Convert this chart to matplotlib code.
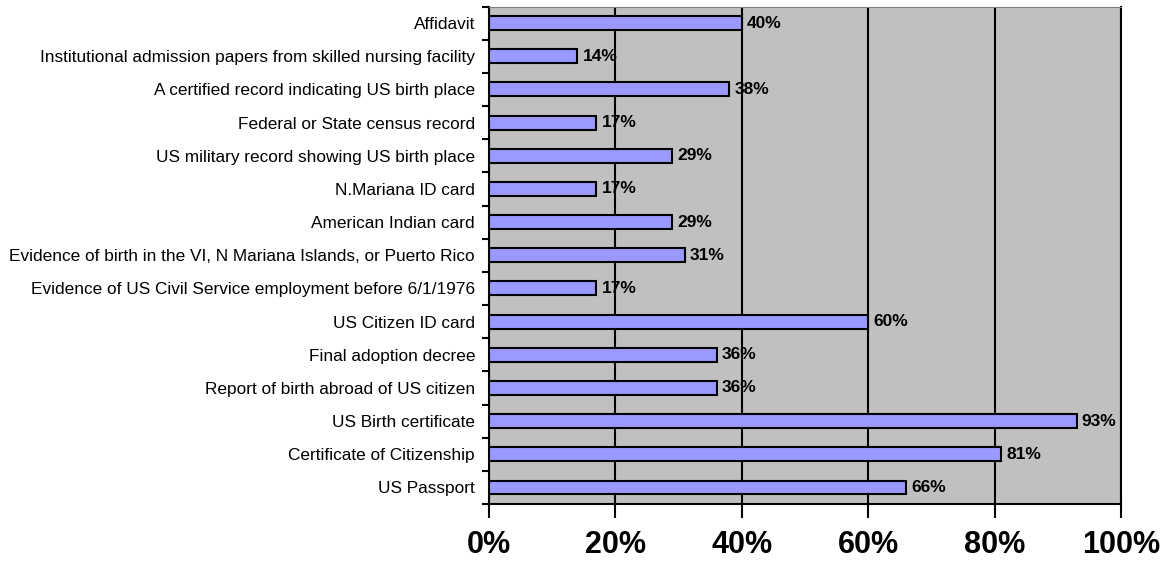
import numpy as np
from matplotlib import pyplot as plt

plt.rcParams['font.family'] = ['Liberation Sans', 'DejaVu Sans']

# categories from top to bottom
labels = ["Affidavit",
          "Institutional admission papers from skilled nursing facility",
          "A certified record indicating US birth place",
          "Federal or State census record",
          "US military record showing US birth place",
          "N.Mariana ID card",
          "American Indian card",
          "Evidence of birth in the VI, N Mariana Islands, or Puerto Rico",
          "Evidence of US Civil Service employment before 6/1/1976",
          "US Citizen ID card",
          "Final adoption decree",
          "Report of birth abroad of US citizen",
          "US Birth certificate",
          "Certificate of Citizenship",
          "US Passport"]
values = [40, 14, 38, 17, 29, 17, 29, 31, 17, 60, 36, 36, 93, 81, 66]
xticks = [0, 20, 40, 60, 80, 100]

fig = plt.figure(figsize=(11.74, 5.67), dpi=100)
ax = fig.add_axes([0.4165, 0.111, 0.5384, 0.8775])
ax.set_facecolor('#C0C0C0')

y = np.arange(len(labels))[::-1]
ax.barh(y, values, height=0.42, color='#9999FF', edgecolor='black', linewidth=1.5, zorder=3)
for yi, v in zip(y, values):
    ax.text(v + 0.8, yi, "%d%%" % v, va='center', ha='left', fontsize=12.5, fontweight='bold', zorder=4)

ax.set_xlim(0, 100)
ax.set_ylim(-0.5, len(labels) - 0.5)
ax.set_xticks(xticks)
ax.set_xticklabels(["%d%%" % t for t in xticks], fontsize=22, fontweight='bold')
ax.set_yticks(y)
ax.set_yticklabels(labels, fontsize=12.4)
ax.set_yticks(np.arange(-0.5, len(labels), 1), minor=True)
ax.tick_params(axis='y', which='major', length=0, pad=10)
ax.tick_params(axis='y', which='minor', length=5, width=1.5, direction='out')
ax.tick_params(axis='x', length=10, width=1.5, direction='out', pad=9)
ax.grid(axis='x', color='black', linewidth=1.5, zorder=1)
ax.set_axisbelow(True)

ax.spines['left'].set_linewidth(1.5)
ax.spines['bottom'].set_linewidth(1.5)
ax.spines['top'].set_color('#808080')
ax.spines['right'].set_color('black')
ax.spines['right'].set_linewidth(1.5)

plt.savefig('out.png', dpi=100)
